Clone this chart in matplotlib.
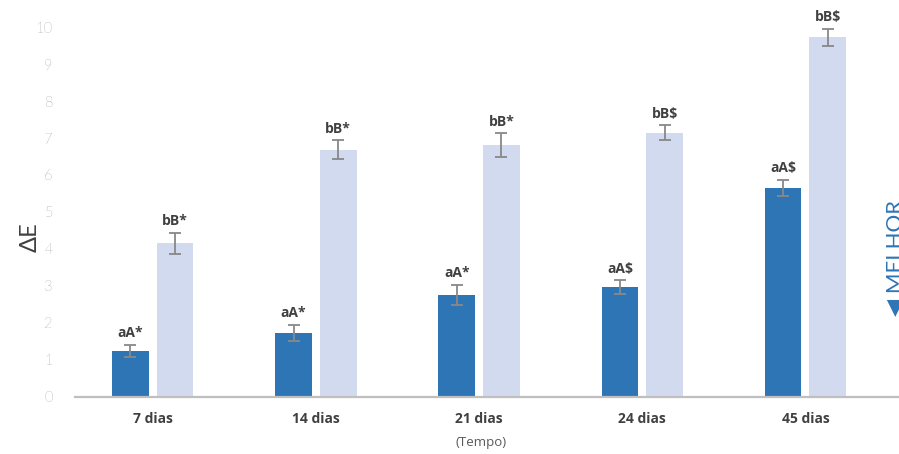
import numpy as np
import matplotlib.pyplot as plt

categorias = ['7 dias', '14 dias', '21 dias', '24 dias', '45 dias']
serie_a = [1.25, 1.73, 2.76, 2.97, 5.65]
erro_a = [0.16, 0.22, 0.28, 0.18, 0.22]
serie_b = [4.15, 6.68, 6.81, 7.14, 9.72]
erro_b = [0.29, 0.26, 0.32, 0.20, 0.23]
rotulos_a = ['aA*', 'aA*', 'aA*', 'aA$', 'aA$']
rotulos_b = ['bB*', 'bB*', 'bB*', 'bB$', 'bB$']

azul = '#2E75B6'
claro = '#D1DAEE'

fig = plt.figure(figsize=(8.99, 4.54), dpi=100)
ax = fig.add_axes([0.0834, 0.1256, 0.9166, 0.8149])

x = np.arange(len(categorias))
w = 0.225
off = 0.137
ax.bar(x - off, serie_a, w, color=azul, zorder=2)
ax.bar(x + off, serie_b, w, color=claro, zorder=2)
ax.errorbar(x - off, serie_a, yerr=erro_a, fmt='none', ecolor='#888888',
            elinewidth=1.3, capsize=4, capthick=1.3, zorder=3)
ax.errorbar(x + off, serie_b, yerr=erro_b, fmt='none', ecolor='#888888',
            elinewidth=1.3, capsize=4, capthick=1.3, zorder=3)

for i in range(len(categorias)):
    ax.text(x[i] - off, serie_a[i] + erro_a[i] + 0.12, rotulos_a[i], ha='center',
            va='bottom', fontsize=10, fontweight='bold', color='#404040', family='Open Sans')
    ax.text(x[i] + off, serie_b[i] + erro_b[i] + 0.12, rotulos_b[i], ha='center',
            va='bottom', fontsize=10, fontweight='bold', color='#404040', family='Open Sans')

ax.set_xlim(-0.476, 4.573)
ax.set_ylim(0, 10)
ax.set_yticks(range(0, 11))
ax.set_xticks(x)
ax.set_xticklabels(categorias, fontsize=10, fontweight='bold', color='#404040', family='Open Sans')
for lab in ax.get_yticklabels():
    lab.set_family('Lato')
    lab.set_fontweight('light')
ax.tick_params(axis='y', length=0, labelsize=10.5, labelcolor='#595959', pad=16)
ax.tick_params(axis='x', length=0, pad=11)
for s in ['top', 'right', 'left']:
    ax.spines[s].set_visible(False)
ax.spines['bottom'].set_color('#BFBFBF')
ax.spines['bottom'].set_linewidth(1.6)

fig.text(0.033, 0.478, 'ΔE', rotation=90, ha='center', va='center',
         fontsize=17, color='#404040', family='Lato')
fig.text(0.535, 0.012, '(Tempo)', ha='center', va='bottom', fontsize=9.5,
         color='#595959', family='Open Sans')
fig.text(0.996, 0.305, '◀ MELHOR', rotation=90, ha='center', va='bottom',
         fontsize=16, color=azul, family=['Lato', 'DejaVu Sans'])

fig.savefig('out.png', dpi=100)
